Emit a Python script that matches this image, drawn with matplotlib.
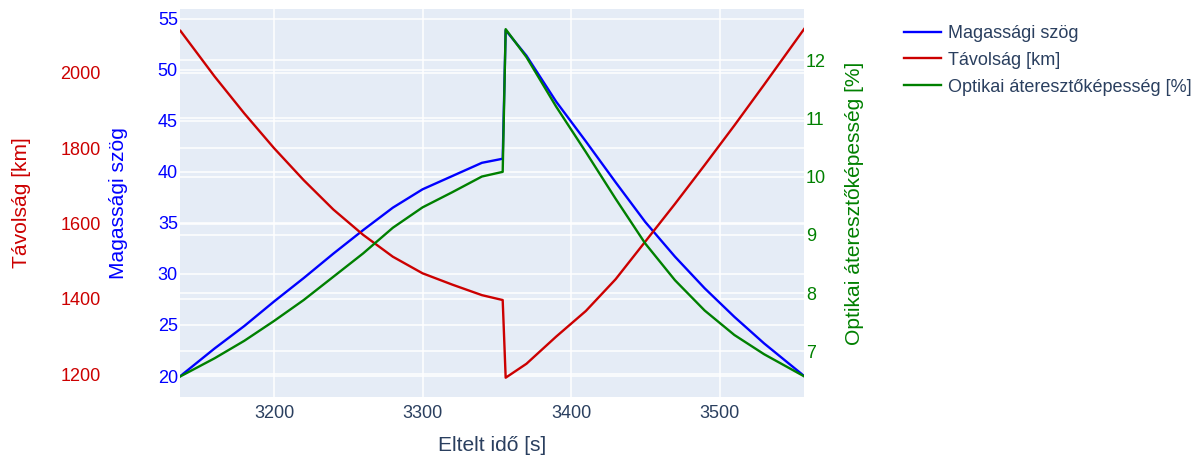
import matplotlib
matplotlib.use("Agg")
import matplotlib.pyplot as plt

# elapsed time [s]
time_s = [3137, 3160, 3180, 3200, 3220, 3240, 3260, 3280, 3300, 3320, 3340, 3354,
          3356, 3370, 3390, 3410, 3430, 3450, 3470, 3490, 3510, 3530, 3557]
# elevation angle [deg]
elevation = [20.0, 22.7, 24.9, 27.3, 29.6, 32.0, 34.3, 36.5, 38.3, 39.6, 40.9, 41.3,
             53.9, 51.4, 46.9, 43.0, 39.0, 35.1, 31.7, 28.6, 25.8, 23.2, 20.0]
# slant range [km]
distance = [2111, 1990, 1892, 1800, 1715, 1637, 1570, 1512, 1468, 1438, 1410, 1397,
            1191, 1228, 1300, 1368, 1452, 1552, 1652, 1755, 1860, 1968, 2116]
# optical transmittance [%]
transmittance = [6.57, 6.88, 7.18, 7.52, 7.88, 8.28, 8.68, 9.12, 9.47, 9.73, 10.00, 10.08,
                 12.53, 12.05, 11.20, 10.42, 9.62, 8.85, 8.22, 7.70, 7.28, 6.95, 6.57]

x_ticks = [3200, 3300, 3400, 3500]
elev_ticks = [20, 25, 30, 35, 40, 45, 50, 55]
dist_ticks = [1200, 1400, 1600, 1800, 2000]
trans_ticks = [7, 8, 9, 10, 11, 12]

BLUE = "#0000ff"
RED = "#cc0000"
GREEN = "#008000"
TEXT = "#2a3f5f"
BG = "#e5ecf6"

plt.rcParams["font.family"] = ["Liberation Sans", "DejaVu Sans"]
TICK_PT = 12.96
TITLE_PT = 15.1

fig = plt.figure(figsize=(12, 4.61), dpi=100)
ax = fig.add_axes([0.15, 0.1388, 0.52, 0.8417])
ax_red = ax.twinx()
ax_green = ax.twinx()
ax.set_facecolor(BG)
for a in (ax_red, ax_green):
    a.patch.set_visible(False)

ax.set_xlim(3136.7, 3556.9)
ax.set_ylim(17.94, 55.98)
ax_red.set_ylim(1139.8, 2169.0)
ax_green.set_ylim(6.215, 12.876)

ax.set_xticks(x_ticks)
ax.set_yticks(elev_ticks)
ax_red.set_yticks(dist_ticks)
ax_green.set_yticks(trans_ticks)

for a in (ax, ax_red, ax_green):
    for s in a.spines.values():
        s.set_visible(False)
    a.grid(True, color="white", linewidth=1.1)
    a.set_axisbelow(True)
    a.tick_params(length=0)

ax.tick_params(axis="x", colors=TEXT, labelsize=TICK_PT, pad=6)
ax.tick_params(axis="y", colors=BLUE, labelsize=TICK_PT, pad=1.5)

# distance axis sits on the far left
ax_red.yaxis.tick_left()
ax_red.yaxis.set_label_position("left")
ax_red.spines["left"].set_position(("outward", 55.4))
ax_red.tick_params(axis="y", colors=RED, labelsize=TICK_PT, pad=1.5)
ax_green.tick_params(axis="y", colors=GREEN, labelsize=TICK_PT, pad=1.5)
ax_red.grid(False, axis="x")
ax_green.grid(False, axis="x")

ax.set_xlabel("Eltelt idő [s]", color=TEXT, fontsize=TITLE_PT)
ax.xaxis.set_label_coords(0.5, -0.10)
ax.set_ylabel("Magassági szög", color=BLUE, fontsize=TITLE_PT)
ax.yaxis.set_label_coords(-0.0833, 0.5)
ax_red.set_ylabel("Távolság [km]", color=RED, fontsize=TITLE_PT)
ax_red.yaxis.set_label_coords(-0.2388, 0.5)
ax_green.set_ylabel("Optikai áteresztőképesség [%]", color=GREEN, fontsize=TITLE_PT)
ax_green.yaxis.set_label_coords(1.066, 0.5)

# all traces go on the top axes so every grid stays underneath them
l1, = ax_green.plot(time_s, elevation, color=BLUE, lw=1.7, transform=ax.transData,
                    label="Magassági szög")
l2, = ax_green.plot(time_s, distance, color=RED, lw=1.7, transform=ax_red.transData,
                    label="Távolság [km]")
l3, = ax_green.plot(time_s, transmittance, color=GREEN, lw=1.7,
                    label="Optikai áteresztőképesség [%]")
ax_green.set_xlim(ax.get_xlim())
ax_green.set_ylim(6.215, 12.876)

fig.legend(handles=[l1, l2, l3], loc="upper left", bbox_to_anchor=(0.7533, 0.946),
           frameon=False, fontsize=TICK_PT, handlelength=2.05, handletextpad=0.4,
           labelspacing=0.55, labelcolor=TEXT, borderaxespad=0, borderpad=0)

fig.savefig("out.png", dpi=100)
